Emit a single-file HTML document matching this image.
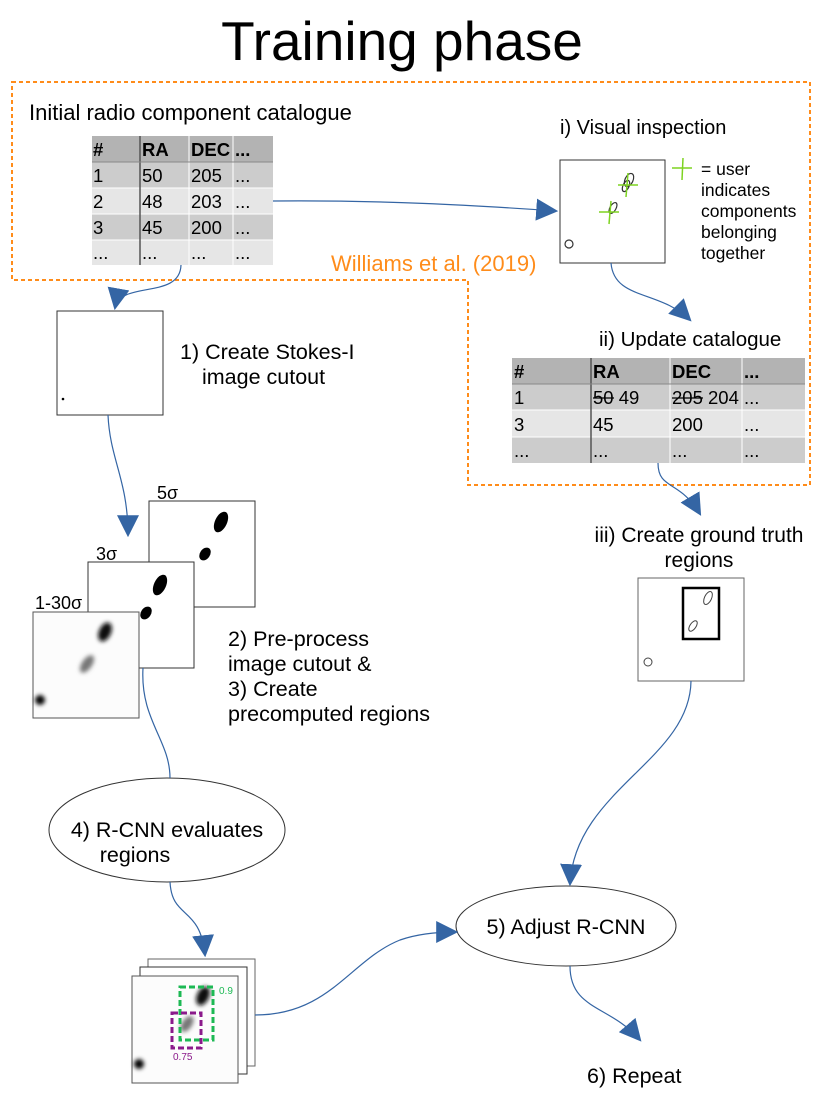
<!DOCTYPE html>
<html><head><meta charset="utf-8"><style>
html,body{margin:0;padding:0;background:#fff;}
svg{display:block;font-family:"Liberation Sans",sans-serif;}
</style></head><body>
<svg width="822" height="1114" viewBox="0 0 822 1114" xmlns="http://www.w3.org/2000/svg">
<defs>
<marker id="ah" viewBox="0 0 10 10" refX="9" refY="5" markerWidth="22" markerHeight="22" markerUnits="userSpaceOnUse" orient="auto">
<path d="M0,0 L10,5 L0,10 z" fill="#3465a4"/></marker>
<filter id="bl"><feGaussianBlur stdDeviation="2"/></filter>
</defs>
<text x="402" y="60" font-size="55" text-anchor="middle" fill="#000">Training phase</text>
<path d="M12,82 H810 V485 H468 V280 H12 Z" fill="none" stroke="#ff8c1a" stroke-width="2" stroke-dasharray="4,3"/>
<text x="29" y="120" font-size="22">Initial radio component catalogue</text>
<text x="331" y="271" font-size="22" fill="#ff8c1a">Williams et al. (2019)</text>
<g font-size="18.5">
<rect x="92" y="136" width="181" height="26" fill="#b3b3b3"/>
<rect x="92" y="162" width="181" height="26" fill="#cccccc"/>
<rect x="92" y="188" width="181" height="26" fill="#e6e6e6"/>
<rect x="92" y="214" width="181" height="26" fill="#cccccc"/>
<rect x="92" y="240" width="181" height="25" fill="#e6e6e6"/>
<g stroke="#fff" stroke-width="1"><line x1="189" y1="136" x2="189" y2="265"/><line x1="233" y1="136" x2="233" y2="265"/><line x1="92" y1="188" x2="273" y2="188"/><line x1="92" y1="214" x2="273" y2="214"/><line x1="92" y1="240" x2="273" y2="240"/></g>
<line x1="140" y1="136" x2="140" y2="265" stroke="#555" stroke-width="1.5"/>
<line x1="92" y1="162" x2="273" y2="162" stroke="#888" stroke-width="1"/>
<g font-weight="bold"><text x="93" y="156">#</text><text x="142" y="156">RA</text><text x="191" y="156">DEC</text><text x="235" y="156">...</text></g>
<text x="93" y="182">1</text><text x="142" y="182">50</text><text x="191" y="182">205</text><text x="235" y="182">...</text>
<text x="93" y="208">2</text><text x="142" y="208">48</text><text x="191" y="208">203</text><text x="235" y="208">...</text>
<text x="93" y="234">3</text><text x="142" y="234">45</text><text x="191" y="234">200</text><text x="235" y="234">...</text>
<text x="93" y="259">...</text><text x="142" y="259">...</text><text x="191" y="259">...</text><text x="235" y="259">...</text>
</g>
<text x="560" y="134" font-size="20">i) Visual inspection</text>
<rect x="560" y="160" width="105" height="103" fill="#fff" stroke="#333" stroke-width="1"/>
<g fill="none" stroke="#333" stroke-width="1.2">
<ellipse cx="629" cy="180" rx="4" ry="7" transform="rotate(25 629 180)"/>
<ellipse cx="626" cy="186" rx="3" ry="6" transform="rotate(25 626 186)"/>
<ellipse cx="613" cy="208" rx="3" ry="6" transform="rotate(30 613 208)"/>
<circle cx="569" cy="244" r="4"/>
</g>
<g stroke="#7ed321" stroke-width="1.5">
<line x1="618" y1="185" x2="638" y2="185"/><line x1="628" y1="173" x2="626" y2="197"/>
<line x1="599" y1="212" x2="619" y2="212"/><line x1="611" y1="201" x2="609" y2="224"/>
<line x1="672" y1="168" x2="692" y2="168"/><line x1="683" y1="158" x2="682" y2="180"/>
</g>
<g font-size="17.5"><text x="701" y="175">= user</text><text x="701" y="196">indicates</text><text x="701" y="217">components</text><text x="701" y="238">belonging</text><text x="701" y="259">together</text></g>
<text x="599" y="346" font-size="20.5">ii) Update catalogue</text>
<g font-size="18.5">
<rect x="512" y="358" width="293" height="26" fill="#b3b3b3"/>
<rect x="512" y="384" width="293" height="26" fill="#cccccc"/>
<rect x="512" y="410" width="293" height="27" fill="#e6e6e6"/>
<rect x="512" y="437" width="293" height="26" fill="#cccccc"/>
<g stroke="#fff"><line x1="670" y1="358" x2="670" y2="463"/><line x1="742" y1="358" x2="742" y2="463"/><line x1="512" y1="410" x2="805" y2="410"/><line x1="512" y1="437" x2="805" y2="437"/></g>
<line x1="591" y1="358" x2="591" y2="463" stroke="#555" stroke-width="1.5"/>
<line x1="512" y1="384" x2="805" y2="384" stroke="#888"/>
<g font-weight="bold"><text x="514" y="378">#</text><text x="593" y="378">RA</text><text x="672" y="378">DEC</text><text x="744" y="378">...</text></g>
<text x="514" y="404">1</text><text x="593" y="404">50 49</text><text x="672" y="404">205 204</text><text x="744" y="404">...</text>
<line x1="593" y1="398" x2="614" y2="398" stroke="#000" stroke-width="1.3"/>
<line x1="672" y1="398" x2="703" y2="398" stroke="#000" stroke-width="1.3"/>
<text x="514" y="431">3</text><text x="593" y="431">45</text><text x="672" y="431">200</text><text x="744" y="431">...</text>
<text x="514" y="457">...</text><text x="593" y="457">...</text><text x="672" y="457">...</text><text x="744" y="457">...</text>
</g>
<text x="699" y="542" font-size="21" text-anchor="middle">iii) Create ground truth</text>
<text x="699" y="567" font-size="21" text-anchor="middle">regions</text>
<rect x="638" y="578" width="106" height="103" fill="#fff" stroke="#666" stroke-width="1"/>
<rect x="683" y="588" width="36" height="51" fill="none" stroke="#000" stroke-width="2.5"/>
<g fill="none" stroke="#444" stroke-width="1"><ellipse cx="708" cy="598" rx="3.5" ry="7" transform="rotate(25 708 598)"/><ellipse cx="693" cy="626" rx="3" ry="6" transform="rotate(35 693 626)"/><circle cx="648" cy="662" r="4"/></g>
<rect x="57" y="311" width="106" height="104" fill="#fff" stroke="#333" stroke-width="1"/>
<circle cx="63" cy="399" r="1.3" fill="#000"/>
<text x="180" y="359" font-size="21.5">1) Create Stokes-I</text>
<text x="202" y="384" font-size="21.5">image cutout</text>
<text x="157" y="499" font-size="18">5σ</text>
<rect x="149" y="501" width="106" height="106" fill="#fff" stroke="#333"/>
<g fill="#000"><ellipse cx="221" cy="522" rx="6" ry="11" transform="rotate(25 221 522)"/><ellipse cx="205" cy="554" rx="5" ry="7" transform="rotate(35 205 554)"/></g>
<text x="96" y="560" font-size="18">3σ</text>
<rect x="88" y="562" width="106" height="106" fill="#fff" stroke="#333"/>
<g fill="#000"><ellipse cx="160" cy="585" rx="6" ry="11" transform="rotate(25 160 585)"/><ellipse cx="146" cy="613" rx="5" ry="7" transform="rotate(35 146 613)"/></g>
<text x="35" y="609" font-size="18">1-30σ</text>
<rect x="33" y="612" width="106" height="106" fill="#fcfcfc" stroke="#555"/>
<g filter="url(#bl)"><ellipse cx="105" cy="632" rx="6" ry="10" transform="rotate(25 105 632)" fill="#111"/><ellipse cx="87" cy="664" rx="5" ry="10" transform="rotate(35 87 664)" fill="#777"/><circle cx="40" cy="700" r="5" fill="#000"/></g>
<g font-size="21.5"><text x="228" y="646">2) Pre-process</text><text x="228" y="671">image cutout &amp;</text><text x="228" y="696">3) Create</text><text x="228" y="721">precomputed regions</text></g>
<ellipse cx="167" cy="830" rx="118" ry="52" fill="#fff" stroke="#333"/>
<text x="167" y="837" font-size="21.5" text-anchor="middle">4) R-CNN evaluates</text>
<text x="135" y="862" font-size="21.5" text-anchor="middle">regions</text>
<ellipse cx="566" cy="926" rx="110" ry="40" fill="#fff" stroke="#333"/>
<text x="566" y="934" font-size="21.5" text-anchor="middle">5) Adjust R-CNN</text>
<text x="587" y="1083" font-size="21.5">6) Repeat</text>
<rect x="148" y="959" width="107" height="107" fill="#fff" stroke="#666"/>
<rect x="140" y="967" width="107" height="107" fill="#fff" stroke="#333"/>
<rect x="132" y="976" width="106" height="107" fill="#fcfcfc" stroke="#555"/>
<g filter="url(#bl)"><ellipse cx="203" cy="996" rx="6" ry="10" transform="rotate(25 203 996)" fill="#111"/><ellipse cx="187" cy="1024" rx="5" ry="9" transform="rotate(35 187 1024)" fill="#777"/><circle cx="139" cy="1064" r="5" fill="#000"/></g>
<rect x="180" y="987" width="33" height="53" fill="none" stroke="#1db954" stroke-width="3" stroke-dasharray="6,3"/>
<text x="219" y="994" font-size="10" fill="#1db954">0.9</text>
<rect x="172" y="1013" width="29" height="35" fill="none" stroke="#8b1a8b" stroke-width="3" stroke-dasharray="6,3"/>
<text x="173" y="1060" font-size="10" fill="#8b1a8b">0.75</text>
<g fill="none" stroke="#3465a4" stroke-width="1.2">
<path d="M273,201 C380,200 470,205 556,211" marker-end="url(#ah)"/>
<path d="M181,265 C180,300 120,280 115,308" marker-end="url(#ah)"/>
<path d="M611,263 C614,300 660,290 690,320" marker-end="url(#ah)"/>
<path d="M658,463 C658,490 680,480 700,514" marker-end="url(#ah)"/>
<path d="M108,415 C110,460 128,480 128,535" marker-end="url(#ah)"/>
<path d="M143,668 C140,720 170,740 170,778"/>
<path d="M170,882 C172,920 200,905 205,955" marker-end="url(#ah)"/>
<path d="M255,1015 C330,1015 350,960 400,940 C420,933 440,932 456,932" marker-end="url(#ah)"/>
<path d="M691,681 C690,760 575,790 570,884" marker-end="url(#ah)"/>
<path d="M570,966 C570,1010 610,1005 640,1040" marker-end="url(#ah)"/>
</g>
</svg>
</body></html>
